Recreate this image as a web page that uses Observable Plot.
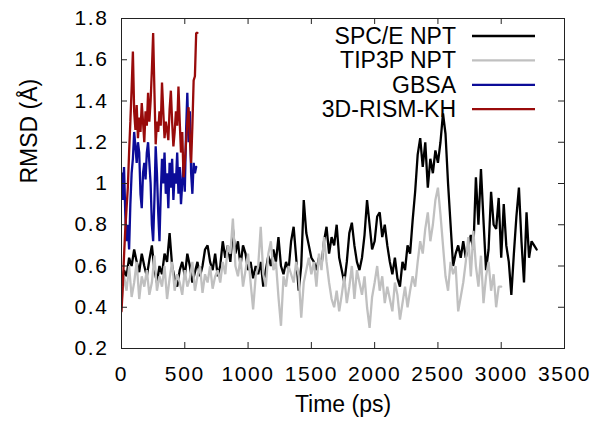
<!DOCTYPE html>
<html><head><meta charset="utf-8">
<script src="https://cdn.jsdelivr.net/npm/d3@7"></script>
<script src="https://cdn.jsdelivr.net/npm/@observablehq/plot@0.6"></script>
<style>
html,body{margin:0;padding:0;background:#fff;}
#chart svg{display:block;}
#chart g[aria-label="x-axis tick label"] text,
#chart g[aria-label="y-axis tick label"] text{letter-spacing:1.6px;}
</style>
</head><body><div id="chart"></div>
<script>
// ---- data ----
const seriesNames = ["SPC/E NPT", "TIP3P NPT", "GBSA", "3D-RISM-KH"];
const seriesColors = ["#000000", "#c0c0c0", "#0c0c98", "#990b0b"];

// SPC/E NPT, sampled every 20 ps from 0 ps
const spceStep = 20;
const spceValues = [
  0.50,0.58,0.55,0.64,0.60, 0.68,0.62,0.57,0.66,0.60,
  0.55,0.63,0.70,0.58,0.52, 0.60,0.56,0.66,0.62,0.76,
  0.60,0.54,0.50,0.58,0.62, 0.55,0.66,0.60,0.52,0.57,
  0.62,0.55,0.60,0.68,0.70, 0.62,0.58,0.66,0.55,0.60,
  0.72,0.64,0.70,0.62,0.78, 0.66,0.72,0.60,0.70,0.66,
  0.58,0.62,0.54,0.60,0.56, 0.62,0.50,0.58,0.65,0.60,
  0.68,0.62,0.74,0.60,0.56, 0.62,0.58,0.72,0.79,0.64,
  0.48,0.60,0.92,0.76,0.70, 0.64,0.62,0.58,0.64,0.60,
  0.72,0.79,0.66,0.74,0.70, 0.80,0.64,0.58,0.52,0.62,
  0.76,0.81,0.70,0.62,0.58, 0.64,0.75,0.92,0.80,0.68,
  0.72,0.84,0.86,0.74,0.80, 0.70,0.62,0.56,0.64,0.54,
  0.50,0.62,0.58,0.70,0.66, 0.82,0.96,1.14,1.22,1.08,
  1.20,0.98,1.12,1.05,1.16, 1.10,1.20,1.34,1.24,1.00,
  0.80,0.60,0.66,0.70,0.64, 0.72,0.64,0.70,0.75,0.68,
  1.03,0.80,1.07,0.82,0.58, 0.68,0.96,0.80,0.78,0.93,
  0.64,0.90,0.70,0.62,0.46, 0.66,0.84,0.98,0.72,0.52,
  0.86,0.64,0.72,0.70,0.68
];

// TIP3P NPT, sampled every 20 ps from 0 ps
const tip3pStep = 20;
const tip3pValues = [
  0.42,0.55,0.48,0.60,0.45, 0.52,0.62,0.44,0.55,0.50,
  0.58,0.46,0.52,0.65,0.48, 0.55,0.50,0.60,0.44,0.54,
  0.62,0.48,0.56,0.52,0.46, 0.58,0.50,0.54,0.62,0.48,
  0.55,0.60,0.47,0.56,0.52, 0.60,0.49,0.55,0.58,0.52,
  0.62,0.56,0.70,0.66,0.83, 0.60,0.55,0.64,0.50,0.58,
  0.66,0.52,0.39,0.55,0.60, 0.79,0.56,0.50,0.66,0.72,
  0.58,0.62,0.45,0.31,0.55, 0.50,0.60,0.56,0.52,0.62,
  0.55,0.35,0.52,0.58,0.64, 0.56,0.62,0.50,0.66,0.58,
  0.74,0.62,0.52,0.44,0.40, 0.48,0.38,0.46,0.55,0.42,
  0.50,0.60,0.44,0.58,0.52, 0.46,0.55,0.40,0.30,0.45,
  0.52,0.60,0.48,0.55,0.42, 0.50,0.44,0.38,0.52,0.46,
  0.34,0.42,0.50,0.40,0.48, 0.55,0.50,0.62,0.72,0.66,
  0.78,0.86,0.72,0.80,0.92, 0.98,0.85,0.70,0.55,0.48,
  0.62,0.56,0.60,0.38,0.45, 0.52,0.62,0.74,0.55,0.77,
  0.60,0.50,0.65,0.42,0.55, 0.62,0.48,0.56,0.40,0.50,
  0.50
];

// GBSA, sampled every 10 ps from 0 ps
const gbsaStep = 10;
const gbsaValues = [
  1.05,0.92,1.08,0.85,0.72,0.80,0.68,0.90,1.05,1.12,
  1.25,1.18,1.10,1.20,1.15,0.95,0.88,1.05,1.10,1.02,
  1.15,1.20,1.10,1.00,0.80,0.72,0.92,1.18,1.05,0.86,
  0.72,0.95,1.12,1.00,1.15,0.95,1.05,0.88,1.10,0.98,
  1.12,0.92,1.05,1.00,1.15,0.95,1.08,0.90,1.00,1.12,
  0.96,1.25,1.44,1.20,1.35,1.05,0.95,1.10,1.05,1.08
];

// 3D-RISM-KH, sampled every 10 ps from 0 ps
const rismStep = 10;
const rismValues = [
  0.38,0.50,0.65,0.78,0.88,0.98,1.15,1.30,1.46,1.64,
  1.35,1.26,1.38,1.22,1.32,1.25,1.39,1.30,1.20,1.35,
  1.28,1.44,1.30,1.40,1.55,1.73,1.45,1.19,1.30,1.25,
  1.35,1.28,1.49,1.35,1.22,1.30,1.26,1.21,1.36,1.45,
  1.30,1.18,1.25,1.35,1.28,1.47,1.30,1.15,1.25,1.03,
  1.10,1.20,1.30,1.37,1.22,1.10,1.28,1.50,1.52,1.73,
  1.73
];

const xTicks = [0, 500, 1000, 1500, 2000, 2500, 3000, 3500];
const yTicks = [0.2, 0.4, 0.6, 0.8, 1.0, 1.2, 1.4, 1.6, 1.8];
const xLabel = "Time (ps)";
const yLabel = "RMSD (Å)";

// ---- build table ----
function rows(name, step, values) {
  return values.map((v, i) => ({series: name, t: i * step, v}));
}
const allSeries = [
  rows(seriesNames[0], spceStep, spceValues),
  rows(seriesNames[1], tip3pStep, tip3pValues),
  rows(seriesNames[2], gbsaStep, gbsaValues),
  rows(seriesNames[3], rismStep, rismValues)
];

// ---- layout ----
const W = 600, H = 428;
const M = {top: 18, right: 36, bottom: 80, left: 121};
const innerW = W - M.left - M.right, innerH = H - M.top - M.bottom;
const TICK = 6;
const FONT = "'Liberation Sans', Arial, Helvetica, sans-serif";

function legend() {
  const g = d3.create("svg:g").attr("font-family", FONT).attr("font-size", 23);
  const right = W - M.right;
  seriesNames.forEach((name, i) => {
    const y = 36 + i * 24.4;
    g.append("text").attr("x", right - 108).attr("y", y).attr("dy", "0.34em")
      .attr("text-anchor", "end").attr("fill", "#000").text(name);
    g.append("line").attr("x1", right - 92).attr("x2", right - 29)
      .attr("y1", y).attr("y2", y).attr("stroke", seriesColors[i]).attr("stroke-width", 2.3);
  });
  return g.node();
}

const plot = Plot.plot({
  width: W, height: H,
  marginTop: M.top, marginRight: M.right, marginBottom: M.bottom, marginLeft: M.left,
  style: {fontFamily: FONT, fontSize: "21px", color: "#000", background: "#fff"},
  x: {domain: [0, 3500]},
  y: {domain: [0.2, 1.8]},
  marks: [
    ...allSeries.map((data, i) => Plot.line(data, {x: "t", y: "v", stroke: seriesColors[i], strokeWidth: 2.3, strokeLinejoin: "miter", clip: true})),
    Plot.frame({stroke: "#222", strokeWidth: 1}),
    Plot.tickX(xTicks, {x: d => d, stroke: "#222", insetTop: innerH - TICK}),
    Plot.tickX(xTicks, {x: d => d, stroke: "#222", insetBottom: innerH - TICK}),
    Plot.tickY(yTicks, {y: d => d, stroke: "#222", insetRight: innerW - TICK}),
    Plot.tickY(yTicks, {y: d => d, stroke: "#222", insetLeft: innerW - TICK}),
    Plot.axisX({ticks: xTicks, tickSize: 0, tickPadding: 18, tickFormat: d => String(d), label: null, fontSize: 21}),
    Plot.axisY({ticks: yTicks, tickSize: 0, tickPadding: 13, tickFormat: d => String(+d.toFixed(1)), label: null, fontSize: 21}),
    Plot.text([xLabel], {frameAnchor: "bottom", dy: 63, text: d => d, fontSize: 23, fill: "#000"}),
    Plot.text([yLabel], {frameAnchor: "left", dx: -92, rotate: -90, text: d => d, fontSize: 23, fill: "#000"}),
    legend
  ]
});
document.getElementById("chart").appendChild(plot);
</script>
</body></html>
